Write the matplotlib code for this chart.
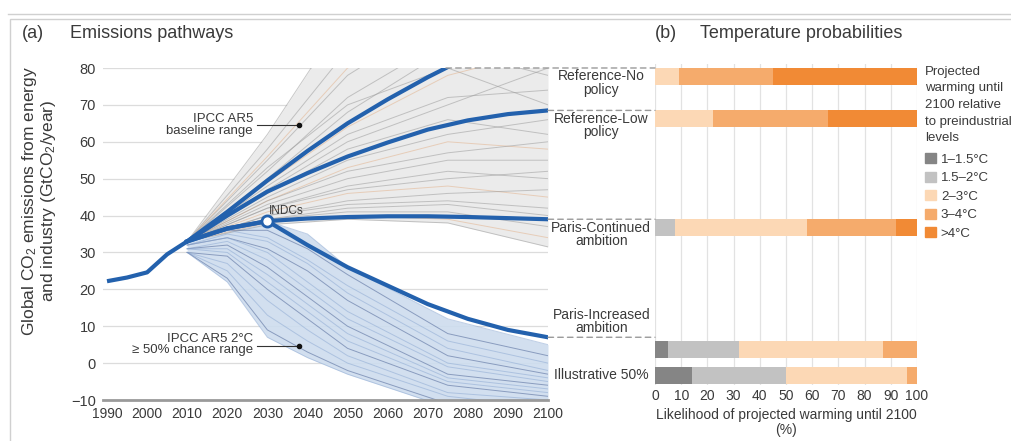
import numpy as np
import matplotlib
matplotlib.use("Agg")
import matplotlib.pyplot as plt
from matplotlib.patches import Patch, Rectangle, ConnectionPatch
from matplotlib.lines import Line2D

plt.rcParams['font.family'] = ['Liberation Sans', 'DejaVu Sans']
plt.rcParams['mathtext.default'] = 'regular'

# --- emissions pathways (GtCO2/year) ---
hist_years = [1990, 1995, 2000, 2005, 2010]
hist_vals = [22.2, 23.2, 24.6, 29.5, 33]

path_years = [2010, 2020, 2030, 2040, 2050, 2060, 2070, 2080, 2090, 2100]
ref_no = [33, 41, 49.5, 57.5, 65, 71.5, 77.5, 83, 88, 93]
ref_low = [33, 40, 46.5, 51.5, 56, 59.8, 63.3, 65.8, 67.5, 68.5]
paris_cont = [33, 36.5, 38.5, 39.2, 39.6, 39.8, 39.8, 39.6, 39.3, 39]
paris_inc = [33, 36.5, 38.5, 32, 26, 21, 16, 12, 9, 7]
indc_year, indc_val = 2030, 38.5

# IPCC AR5 baseline scenarios
base_years = [2010, 2030, 2050, 2075, 2100]
base_lines = [
    [33, 62, 95, 125, 150],
    [33, 58, 85, 110, 130],
    [33, 56, 80, 90, 88],
    [33, 55, 78, 95, 105],
    [33, 53, 70, 80, 70],
    [33, 52, 72, 88, 95],
    [33, 50, 68, 85, 78],
    [33, 49, 64, 78, 85],
    [33, 48, 62, 72, 74],
    [33, 47, 60, 70, 80],
    [33, 46, 58, 66, 62],
    [33, 45, 55, 62, 66],
    [33, 44, 53, 60, 58],
    [33, 44, 52, 57, 60],
    [33, 43, 50, 55, 55],
    [33, 42, 48, 52, 50],
    [33, 42, 47, 50, 52],
    [33, 41, 46, 48, 45],
    [33, 40, 44, 46, 47],
    [33, 40, 43, 44, 42],
    [33, 39, 42, 43, 40],
    [33, 39, 41, 41, 37],
    [33, 38, 40, 39, 34],
    [33, 37.5, 39, 38, 31.5],
]

# IPCC AR5 2°C (>= 50% chance) scenarios
low_years = [2010, 2020, 2030, 2040, 2050, 2075, 2100]
low_lines = [
    [33, 37, 38.5, 35, 26, 12, 5],
    [33, 36, 36, 31, 24, 8, 2],
    [33, 36, 34, 28, 21, 6, 0],
    [32, 35, 33, 27, 19, 4, -2],
    [32, 34, 31, 25, 17, 2, -3],
    [32, 34, 30, 22, 14, 0, -4],
    [31, 33, 28, 20, 12, -1, -5],
    [31, 32, 26, 18, 10, -3, -6],
    [31, 31, 24, 16, 8, -4, -7],
    [31, 30, 22, 14, 6, -5, -8],
    [30, 29, 20, 12, 4, -6, -9],
    [30, 27, 17, 9, 2, -8, -10],
    [30, 25, 13, 6, 0, -9, -12],
    [30, 23, 9, 3, -2, -11, -14],
    [30, 22, 7, 1.5, -3, -12, -15],
]

# --- temperature probabilities (%) ---
temp_classes = ['1–1.5°C', '1.5–2°C', '2–3°C', '3–4°C', '>4°C']
temp_colors = ['#858585', '#c2c2c2', '#fcd8b5', '#f5ab6c', '#f18a35']
prob_ref_no = [0, 0, 9, 36, 55]
prob_ref_low = [0, 0, 22, 44, 34]
prob_paris_cont = [0, 7.5, 50.5, 34, 8]
prob_paris_inc = [5, 27, 55, 13, 0]
prob_illustrative = [14, 36, 46, 4, 0]

blue = '#2361ad'
txt = '#3a3a3a'

fig = plt.figure(figsize=(10.12, 4.41), dpi=100)

# frame
fig.add_artist(Rectangle((10 / 1012, -0.02), 1.0, 1 - 19 / 441 + 0.02,
                         transform=fig.transFigure, fill=False, ec='#d0d0d0', lw=1))
fig.add_artist(Line2D([8 / 1012, 1], [1 - 14 / 441] * 2, transform=fig.transFigure,
                      color='#d0d0d0', lw=1))

# ---------------- panel (a) ----------------
ax = fig.add_axes([103 / 1012, 41 / 441, 445 / 1012, 332 / 441])
ax.set_xlim(1989, 2100)
ax.set_ylim(-10, 80)

b = np.array(base_lines)
ax.fill_between(base_years, b.min(axis=0), b.max(axis=0), color='#ebebeb', lw=0, zorder=1)
for i, row in enumerate(base_lines):
    c = '#e3b48f' if i % 5 == 2 else '#9c9c9c'
    ax.plot(base_years, row, color=c, lw=0.7, alpha=0.55, zorder=2)

l = np.array(low_lines)
ax.fill_between(low_years, l.min(axis=0), l.max(axis=0), color='#cddcee', lw=0, alpha=0.9, zorder=1)
for i, row in enumerate(low_lines):
    c = '#4e6597' if i % 3 == 1 else '#8eaad3'
    ax.plot(low_years, row, color=c, lw=0.7, alpha=0.55, zorder=2)

ax.plot(hist_years, hist_vals, color=blue, lw=3, solid_capstyle='butt', zorder=5)
for vals in (ref_no, ref_low, paris_cont, paris_inc):
    ax.plot(path_years, vals, color=blue, lw=3, zorder=5)
ax.plot(indc_year, indc_val, 'o', ms=8, mfc='white', mec=blue, mew=2, zorder=6)
ax.text(indc_year + 0.4, indc_val + 1.0, 'INDCs', fontsize=8.5, color=txt,
        ha='left', va='bottom', zorder=6)

# range annotations
ax.text(2026.4, 64.6, 'IPCC AR5\nbaseline range', fontsize=9.5, color=txt,
        ha='right', va='center', linespacing=0.95)
ax.plot([2027.5, 2037.8], [64.5, 64.5], color='#333333', lw=0.8, zorder=6)
ax.plot(2038, 64.5, 'o', ms=3, color='#111111', zorder=6)
ax.text(2026.4, 5.0, 'IPCC AR5 2°C\n≥ 50% chance range', fontsize=9.5, color=txt,
        ha='right', va='center', linespacing=0.95)
ax.plot([2027.5, 2037.8], [4.6, 4.6], color='#333333', lw=0.8, zorder=6)
ax.plot(2038, 4.6, 'o', ms=3, color='#111111', zorder=6)

ax.set_yticks(range(-10, 81, 10))
ax.set_xticks(range(1990, 2101, 10))
ax.grid(axis='y', color='#dcdcdc', lw=0.9)
ax.set_axisbelow(True)
for s in ('top', 'right', 'left'):
    ax.spines[s].set_visible(False)
ax.spines['bottom'].set_color('#9a9a9a')
ax.spines['bottom'].set_linewidth(2)
ax.tick_params(length=0, labelsize=10, colors=txt)
ax.tick_params(axis='x', pad=5)
ax.tick_params(axis='y', labelsize=10.5, pad=5)

fig.text(39 / 1012, 1 - 201 / 441,
         'Global CO$_2$ emissions from energy\nand industry (GtCO$_2$/year)',
         rotation=90, ha='center', va='center', fontsize=12.5, color=txt,
         multialignment='center', linespacing=1.05)

fig.text(22 / 1012, 1 - 33 / 441, '(a)', fontsize=13, color=txt, va='center')
fig.text(70 / 1012, 1 - 33 / 441, 'Emissions pathways', fontsize=13, color=txt, va='center')
fig.text(655 / 1012, 1 - 33 / 441, '(b)', fontsize=13, color=txt, va='center')
fig.text(700 / 1012, 1 - 33 / 441, 'Temperature probabilities', fontsize=13, color=txt, va='center')

# ---------------- panel (b) ----------------
# same vertical scale as panel (a), so bars line up with pathway end values
axb = fig.add_axes([655 / 1012, (441 - 385.2) / 441, 262 / 1012, 320.9 / 441])
axb.set_xlim(0, 100)
axb.set_ylim(-6, 81)
bar_h = 4.6

rows = [
    ('Reference-No\npolicy', prob_ref_no, min(ref_no[-1], 80), 'top'),
    ('Reference-Low\npolicy', prob_ref_low, ref_low[-1], 'top'),
    ('Paris-Continued\nambition', prob_paris_cont, paris_cont[-1], 'top'),
    ('Paris-Increased\nambition', prob_paris_inc, paris_inc[-1], 'bottom'),
]
for label, probs, end_val, va in rows:
    left = np.concatenate([[0], np.cumsum(probs)[:-1]])
    top = end_val - (0.9 if va == 'bottom' else 0)
    axb.barh(top - bar_h / 2, probs, left=left, height=bar_h, color=temp_colors, lw=0, zorder=3)
    x_end = np.interp(80, ref_no, path_years) if end_val >= 80 else 2100
    con = ConnectionPatch(xyA=(x_end, end_val), coordsA=ax.transData,
                          xyB=(0, end_val), coordsB=axb.transData,
                          color='#9a9a9a', lw=1, linestyle=(0, (4, 3)), zorder=1)
    fig.add_artist(con)
    ty = end_val - 0.4 if va == 'top' else end_val + 0.6
    axb.text(-20.5, ty, label, fontsize=10, color=txt, ha='center', va=va,
             linespacing=0.95, clip_on=False)

ill_top = -1
left = np.concatenate([[0], np.cumsum(prob_illustrative)[:-1]])
axb.barh(ill_top - bar_h / 2, prob_illustrative, left=left, height=bar_h,
         color=temp_colors, lw=0, zorder=3)
axb.text(-20.5, ill_top - bar_h / 2, 'Illustrative 50%', fontsize=10, color=txt,
         ha='center', va='center', clip_on=False)

axb.set_xticks(range(0, 101, 10))
axb.set_yticks([])
axb.grid(axis='x', color='#e2e2e2', lw=0.9)
axb.set_axisbelow(True)
for s in axb.spines.values():
    s.set_visible(False)
axb.tick_params(length=0, labelsize=10, colors=txt, pad=3)
axb.set_xlabel('Likelihood of projected warming until 2100\n(%)', fontsize=10,
               color=txt, labelpad=3, linespacing=1.1)

# legend: heading written separately so its line spacing can be set
fig.text(925 / 1012, 1 - 66 / 441,
         'Projected\nwarming until\n2100 relative\nto preindustrial\nlevels',
         fontsize=9.5, color=txt, ha='left', va='top', linespacing=1.5)
handles = [Patch(color=c) for c in temp_colors]
leg = fig.legend(handles, temp_classes, loc='upper left',
                 bbox_to_anchor=(925 / 1012, 1 - 153 / 441),
                 frameon=False, fontsize=9.5,
                 handlelength=0.8, handleheight=0.8, handletextpad=0.4,
                 labelspacing=0.45, borderpad=0, borderaxespad=0)
for t in leg.get_texts():
    t.set_color(txt)

fig.savefig('out.png', dpi=100)
